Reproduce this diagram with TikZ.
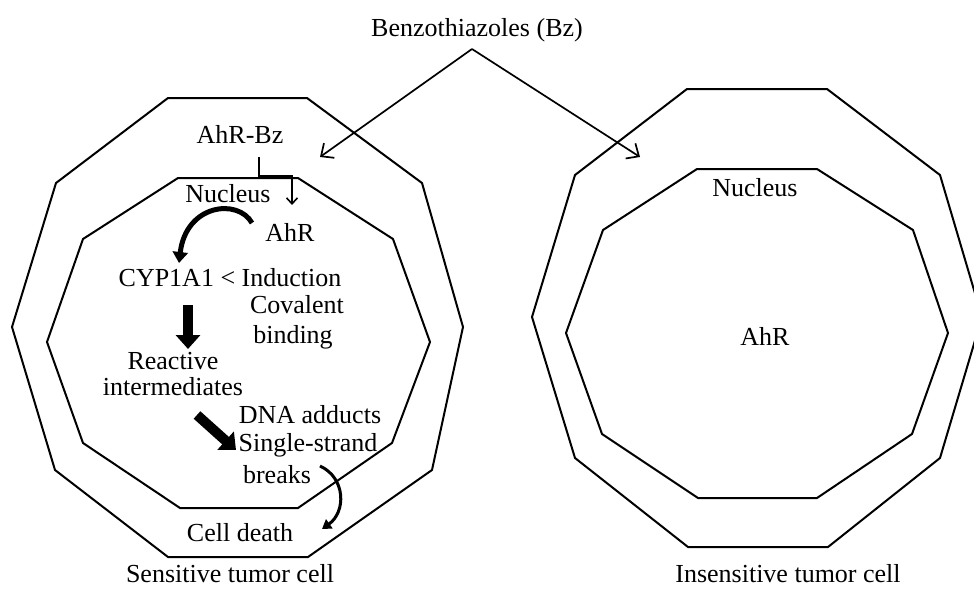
\documentclass[tikz,border=0pt]{standalone}
\usepackage{fontspec}
\setmainfont{Liberation Serif}
\usetikzlibrary{arrows.meta}
\begin{document}
\begin{tikzpicture}[x=1pt,y=-1pt, line join=miter,
 txt/.style={anchor=base, inner sep=0pt, font=\fontsize{26}{28}\selectfont},
 wall/.style={line width=2pt},
 thinarrow/.style={line width=1.7pt, -{Straight Barb[length=10pt,width=18pt]}},
 smallarrow/.style={line width=1.6pt, -{Straight Barb[length=6pt,width=11pt]}},
 boldarrow/.style={line width=10pt, -{Triangle[length=14pt,width=24pt]}},
 curvearrow/.style={line width=5pt, -{Triangle[length=11pt,width=15pt]}},
 slimcurve/.style={line width=3pt, -{Triangle[length=9pt,width=11pt]}}]
\useasboundingbox[fill=white] (0,0) rectangle (974,589);
% left cell
\draw[wall] (168,98) -- (307,98) -- (422,183) -- (463,327) -- (432,470) -- (308,557) -- (168,557) -- (55,470) -- (12,327) -- (56,183) -- cycle;
\draw[wall] (178,178) -- (298,178) -- (393,239) -- (430,342) -- (392,443) -- (298,508) -- (180,508) -- (83,443) -- (47,342) -- (83,239) -- cycle;
% right cell
\draw[wall] (687,89) -- (827,89) -- (940,175) -- (982,317) -- (940,458) -- (828,547) -- (688,547) -- (575,458) -- (532,317) -- (575,175) -- cycle;
\draw[wall] (697,169) -- (817,169) -- (913,230) -- (948,333) -- (912,434) -- (817,498) -- (698,498) -- (602,434) -- (566,333) -- (603,230) -- cycle;
% texts
\node[txt] (bz) at (477,36) {Benzothiazoles (Bz)};
\node[txt] (ahrbz) at (240,143) {AhR-Bz};
\node[txt] (nucl) at (228,202) {Nucleus};
\node[txt] (ahr) at (290,241) {AhR};
\node[txt] (cyp) at (230,286) {CYP1A1 < Induction};
\node[txt] (cov) at (297,313) {Covalent};
\node[txt] (bind) at (293,343) {binding};
\node[txt] (react) at (173,369) {Reactive};
\node[txt] (inter) at (173,395) {intermediates};
\node[txt] (dna) at (310,423) {DNA adducts};
\node[txt] (ss) at (308,451) {Single-strand};
\node[txt] (brk) at (277,483) {breaks};
\node[txt] (death) at (240,541) {Cell death};
\node[txt] (sens) at (230,582) {Sensitive tumor cell};
\node[txt] (nucr) at (755,196) {Nucleus};
\node[txt] (ahrr) at (765,345) {AhR};
\node[txt] (insens) at (788,582) {Insensitive tumor cell};
% connector points
\coordinate (apex) at (472,49);
\coordinate (tipL) at (320,157);
\coordinate (tipR) at (640,157);
\coordinate (bendA) at (259,157);
\coordinate (bendB) at (259,176);
\coordinate (bendC) at (292,176);
\coordinate (bendD) at (292,205);
\coordinate (cA) at (252,223);
\coordinate (cB) at (179,263);
\coordinate (dA) at (188,305);
\coordinate (dB) at (188,349);
\coordinate (eA) at (197,415);
\coordinate (eB) at (236,450);
\coordinate (fA) at (320,466);
\coordinate (fB) at (322,529);
% arrows
\draw[thinarrow] (apex) -- (tipL);
\draw[thinarrow] (apex) -- (tipR);
\draw[smallarrow] (bendA) -- (bendB) -- (bendC) -- (bendD);
\draw[curvearrow] (cA) .. controls (238,198) and (186,204) .. (cB);
\draw[boldarrow] (dA) -- (dB);
\draw[boldarrow] (eA) -- (eB);
\draw[slimcurve] (fA) .. controls (346,478) and (346,512) .. (fB);
\end{tikzpicture}
\end{document}
